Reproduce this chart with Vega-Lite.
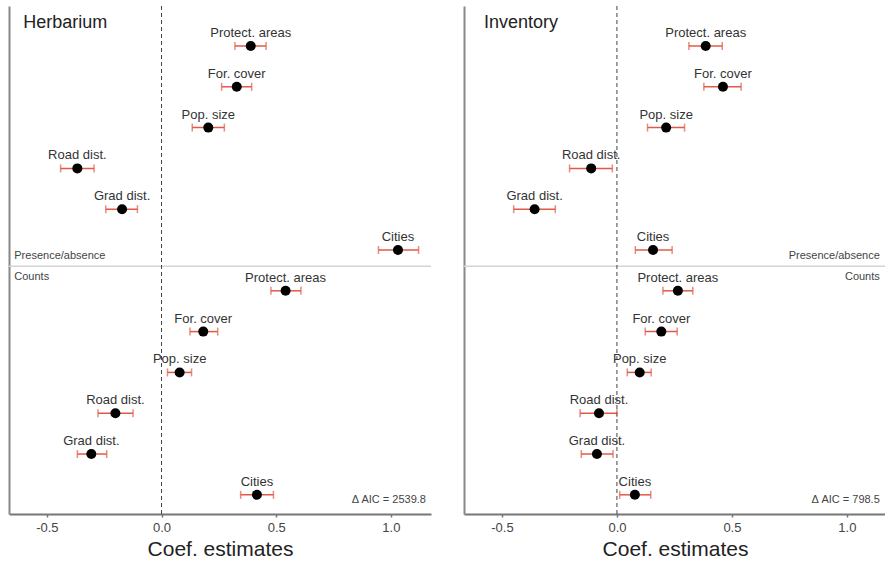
{
  "$schema": "https://vega.github.io/schema/vega-lite/v6.json",
  "background": "white",
  "padding": {"left": 8, "top": 5, "right": 1, "bottom": 0},
  "spacing": 31,
  "config": {
    "font": "Liberation Sans",
    "view": {"stroke": null},
    "axis": {"grid": false, "domainColor": "#777", "domainWidth": 2, "tickColor": "#777", "tickWidth": 1.5, "tickSize": 3, "labelColor": "#444", "labelFontSize": 13, "labelFont": "Liberation Sans", "titleFont": "Liberation Sans", "titleFontWeight": "normal", "titleColor": "#222", "titleFontSize": 21, "labelPadding": 4, "titlePadding": 4}
  },
  "datasets": {
    "herb": [
      {"section": "Presence/absence", "variable": "Protect. areas", "row": 1, "est": 0.389, "lo": 0.32, "hi": 0.456},
      {"section": "Presence/absence", "variable": "For. cover", "row": 2, "est": 0.328, "lo": 0.262, "hi": 0.393},
      {"section": "Presence/absence", "variable": "Pop. size", "row": 3, "est": 0.204, "lo": 0.134, "hi": 0.274},
      {"section": "Presence/absence", "variable": "Road dist.", "row": 4, "est": -0.367, "lo": -0.44, "hi": -0.294},
      {"section": "Presence/absence", "variable": "Grad dist.", "row": 5, "est": -0.172, "lo": -0.243, "hi": -0.105},
      {"section": "Presence/absence", "variable": "Cities", "row": 6, "est": 1.031, "lo": 0.946, "hi": 1.121},
      {"section": "Counts", "variable": "Protect. areas", "row": 7, "est": 0.541, "lo": 0.477, "hi": 0.608},
      {"section": "Counts", "variable": "For. cover", "row": 8, "est": 0.182, "lo": 0.124, "hi": 0.245},
      {"section": "Counts", "variable": "Pop. size", "row": 9, "est": 0.079, "lo": 0.026, "hi": 0.131},
      {"section": "Counts", "variable": "Road dist.", "row": 10, "est": -0.201, "lo": -0.277, "hi": -0.124},
      {"section": "Counts", "variable": "Grad dist.", "row": 11, "est": -0.306, "lo": -0.367, "hi": -0.239},
      {"section": "Counts", "variable": "Cities", "row": 12, "est": 0.416, "lo": 0.345, "hi": 0.488}
    ],
    "inv": [
      {"section": "Presence/absence", "variable": "Protect. areas", "row": 1, "est": 0.386, "lo": 0.313, "hi": 0.458},
      {"section": "Presence/absence", "variable": "For. cover", "row": 2, "est": 0.461, "lo": 0.378, "hi": 0.54},
      {"section": "Presence/absence", "variable": "Pop. size", "row": 3, "est": 0.214, "lo": 0.133, "hi": 0.294},
      {"section": "Presence/absence", "variable": "Road dist.", "row": 4, "est": -0.112, "lo": -0.206, "hi": -0.02},
      {"section": "Presence/absence", "variable": "Grad dist.", "row": 5, "est": -0.358, "lo": -0.449, "hi": -0.268},
      {"section": "Presence/absence", "variable": "Cities", "row": 6, "est": 0.157, "lo": 0.08, "hi": 0.24},
      {"section": "Counts", "variable": "Protect. areas", "row": 7, "est": 0.265, "lo": 0.2, "hi": 0.33},
      {"section": "Counts", "variable": "For. cover", "row": 8, "est": 0.193, "lo": 0.123, "hi": 0.262},
      {"section": "Counts", "variable": "Pop. size", "row": 9, "est": 0.099, "lo": 0.045, "hi": 0.149},
      {"section": "Counts", "variable": "Road dist.", "row": 10, "est": -0.078, "lo": -0.16, "hi": 0.0},
      {"section": "Counts", "variable": "Grad dist.", "row": 11, "est": -0.087, "lo": -0.155, "hi": -0.017},
      {"section": "Counts", "variable": "Cities", "row": 12, "est": 0.078, "lo": 0.012, "hi": 0.147}
    ]
  },
  "hconcat": [
    {
      "width": 422,
      "height": 508,
      "layer": [
        {"data": {"name": "herb"}, "mark": {"type": "rule", "color": "#e05a47", "strokeWidth": 1.5},
         "encoding": {
           "y": {"field": "row", "type": "quantitative", "scale": {"domain": [0.02, 12.47], "reverse": true, "nice": false, "zero": false}, "axis": {"labels": false, "ticks": false, "title": null, "domainColor": "#888"}},
           "x": {"field": "lo", "type": "quantitative", "scale": {"domain": [-0.665, 1.175], "nice": false, "zero": false}, "axis": {"values": [-0.5, 0, 0.5, 1], "format": ".1f", "labelExpr": "replace(datum.label, '\u2212', '-')", "title": "Coef. estimates"}}, "x2": {"field": "hi"}}},
        {"data": {"values": [{}]}, "mark": {"type": "rule", "color": "#d4d4d4", "strokeWidth": 1.5}, "encoding": {"y": {"datum": 6.4}}},
        {"data": {"values": [{}]}, "mark": {"type": "rule", "color": "#444", "strokeDash": [4, 3], "strokeWidth": 1}, "encoding": {"x": {"datum": 0}}},
        {"data": {"name": "herb"}, "mark": {"type": "tick", "orient": "vertical", "color": "#e05a47", "thickness": 1.5, "size": 8}, "encoding": {"x": {"field": "lo", "type": "quantitative"}, "y": {"field": "row", "type": "quantitative"}}},
        {"data": {"name": "herb"}, "mark": {"type": "tick", "orient": "vertical", "color": "#e05a47", "thickness": 1.5, "size": 8}, "encoding": {"x": {"field": "hi", "type": "quantitative"}, "y": {"field": "row", "type": "quantitative"}}},
        {"data": {"name": "herb"}, "mark": {"type": "point", "filled": true, "color": "black", "opacity": 1, "size": 100}, "encoding": {"x": {"field": "est", "type": "quantitative"}, "y": {"field": "row", "type": "quantitative"}}},
        {"data": {"name": "herb"}, "mark": {"type": "text", "fontSize": 13, "color": "#333", "baseline": "bottom", "dy": -6}, "encoding": {"x": {"field": "est", "type": "quantitative"}, "y": {"field": "row", "type": "quantitative"}, "text": {"field": "variable"}}},
        {"data": {"values": [{}]}, "mark": {"type": "text", "text": "Herbarium", "fontSize": 18, "color": "#222", "align": "left", "baseline": "middle"}, "encoding": {"x": {"datum": -0.603}, "y": {"datum": 0.44}}},
        {"data": {"values": [{}]}, "mark": {"type": "text", "text": "Presence/absence", "fontSize": 11, "color": "#444", "align": "left", "baseline": "middle"}, "encoding": {"x": {"datum": -0.642}, "y": {"datum": 6.15}}},
        {"data": {"values": [{}]}, "mark": {"type": "text", "text": "Counts", "fontSize": 11, "color": "#444", "align": "left", "baseline": "middle"}, "encoding": {"x": {"datum": -0.642}, "y": {"datum": 6.66}}},
        {"data": {"values": [{}]}, "mark": {"type": "text", "text": "Δ AIC = 2539.8", "fontSize": 11, "color": "#444", "align": "right", "baseline": "middle"}, "encoding": {"x": {"datum": 1.153}, "y": {"datum": 12.13}}}
      ]
    },
    {
      "width": 422,
      "height": 508,
      "layer": [
        {"data": {"name": "inv"}, "mark": {"type": "rule", "color": "#e05a47", "strokeWidth": 1.5},
         "encoding": {
           "y": {"field": "row", "type": "quantitative", "scale": {"domain": [0.02, 12.47], "reverse": true, "nice": false, "zero": false}, "axis": {"labels": false, "ticks": false, "title": null, "domainColor": "#888"}},
           "x": {"field": "lo", "type": "quantitative", "scale": {"domain": [-0.665, 1.17], "nice": false, "zero": false}, "axis": {"values": [-0.5, 0, 0.5, 1], "format": ".1f", "labelExpr": "replace(datum.label, '\u2212', '-')", "title": "Coef. estimates"}}, "x2": {"field": "hi"}}},
        {"data": {"values": [{}]}, "mark": {"type": "rule", "color": "#d4d4d4", "strokeWidth": 1.5}, "encoding": {"y": {"datum": 6.4}}},
        {"data": {"values": [{}]}, "mark": {"type": "rule", "color": "#444", "strokeDash": [4, 3], "strokeWidth": 1}, "encoding": {"x": {"datum": 0}}},
        {"data": {"name": "inv"}, "mark": {"type": "tick", "orient": "vertical", "color": "#e05a47", "thickness": 1.5, "size": 8}, "encoding": {"x": {"field": "lo", "type": "quantitative"}, "y": {"field": "row", "type": "quantitative"}}},
        {"data": {"name": "inv"}, "mark": {"type": "tick", "orient": "vertical", "color": "#e05a47", "thickness": 1.5, "size": 8}, "encoding": {"x": {"field": "hi", "type": "quantitative"}, "y": {"field": "row", "type": "quantitative"}}},
        {"data": {"name": "inv"}, "mark": {"type": "point", "filled": true, "color": "black", "opacity": 1, "size": 100}, "encoding": {"x": {"field": "est", "type": "quantitative"}, "y": {"field": "row", "type": "quantitative"}}},
        {"data": {"name": "inv"}, "mark": {"type": "text", "fontSize": 13, "color": "#333", "baseline": "bottom", "dy": -6}, "encoding": {"x": {"field": "est", "type": "quantitative"}, "y": {"field": "row", "type": "quantitative"}, "text": {"field": "variable"}}},
        {"data": {"values": [{}]}, "mark": {"type": "text", "text": "Inventory", "fontSize": 18, "color": "#222", "align": "left", "baseline": "middle"}, "encoding": {"x": {"datum": -0.578}, "y": {"datum": 0.44}}},
        {"data": {"values": [{}]}, "mark": {"type": "text", "text": "Presence/absence", "fontSize": 11, "color": "#444", "align": "right", "baseline": "middle"}, "encoding": {"x": {"datum": 1.143}, "y": {"datum": 6.15}}},
        {"data": {"values": [{}]}, "mark": {"type": "text", "text": "Counts", "fontSize": 11, "color": "#444", "align": "right", "baseline": "middle"}, "encoding": {"x": {"datum": 1.143}, "y": {"datum": 6.66}}},
        {"data": {"values": [{}]}, "mark": {"type": "text", "text": "Δ AIC = 798.5", "fontSize": 11, "color": "#444", "align": "right", "baseline": "middle"}, "encoding": {"x": {"datum": 1.143}, "y": {"datum": 12.13}}}
      ]
    }
  ]
}
